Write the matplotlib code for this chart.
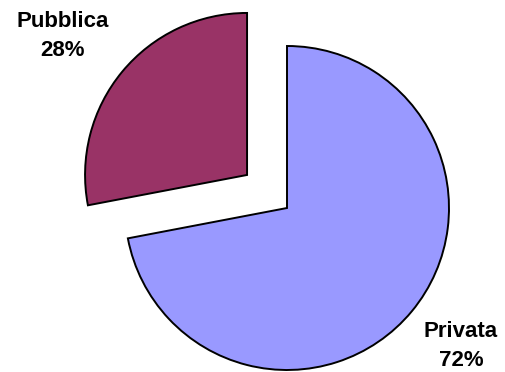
import matplotlib
matplotlib.use("Agg")
import matplotlib.pyplot as plt

labels = ["Privata", "Pubblica"]
shares = [72, 28]
colors = ["#9999FF", "#993366"]
explode = [0.0, 0.32]

W, H = 506, 372
fig = plt.figure(figsize=(W / 100, H / 100), dpi=100)
ax = fig.add_axes([0, 0, 1, 1])

ax.pie(shares, colors=colors, explode=explode, startangle=90, counterclock=False,
       radius=1.0, wedgeprops=dict(edgecolor="black", linewidth=1.4))

# place the pie centre and scale in pixel terms
cx, cy, r = 287, 208, 162
ax.set_xlim(-cx / r, (W - cx) / r)
ax.set_ylim(-(H - cy) / r, cy / r)
ax.set_aspect("auto")
ax.axis("off")

font = dict(family=["Liberation Sans", "DejaVu Sans"], fontsize=16, fontweight="bold",
            ha="center", va="center", linespacing=1.45)
fig.text(63 / W, 1 - 36 / H, f"{labels[1]}\n{shares[1]}%", **font)
fig.text(461 / W, 1 - 346 / H, f"{labels[0]}\n{shares[0]}%", **font)

fig.savefig("out.png", dpi=100, facecolor="white")
